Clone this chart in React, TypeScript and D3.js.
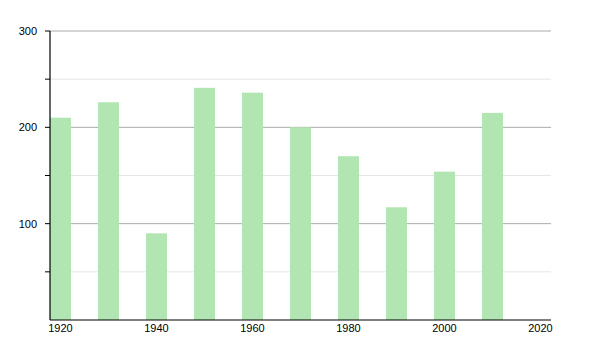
import React from "react";
import * as d3 from "d3";

const years = [1920, 1930, 1940, 1950, 1960, 1970, 1980, 1990, 2000, 2010];
const values = [210, 226, 90, 241, 236, 200, 170, 117, 154, 215];
const xTicks = [1920, 1940, 1960, 1980, 2000, 2020];
const yMajor = [100, 200, 300];
const yMinor = [50, 150, 250];

const W = 600, H = 350;
const left = 50, right = 551, top = 31, bottom = 320;
const barYears = 4.375;

export default function App() {
  const x = d3.scaleLinear().domain([1920, 2020 + barYears]).range([left, right]);
  const y = d3.scaleLinear().domain([0, 300]).range([bottom, top]);
  const bw = x(1920 + barYears) - x(1920);
  const font = "'Liberation Sans', Arial, sans-serif";
  return (
    <svg width={W} height={H} style={{ position: "absolute", left: 0, top: 0 }}>
      <rect width={W} height={H} fill="#fff" />
      {yMinor.map((v) => (
        <g key={"mi" + v}>
          <line x1={left} x2={right} y1={y(v)} y2={y(v)} stroke="#e6e6e6" strokeWidth={1} />
          <line x1={left - 5} x2={left} y1={y(v)} y2={y(v)} stroke="#000" strokeWidth={1} />
        </g>
      ))}
      {yMajor.map((v) => (
        <g key={"ma" + v}>
          <line x1={left} x2={right} y1={y(v)} y2={y(v)} stroke="#aaaaaa" strokeWidth={1} />
          <line x1={left - 5} x2={left} y1={y(v)} y2={y(v)} stroke="#000" strokeWidth={1} />
          <text x={left - 13} y={y(v)} dy="0.35em" textAnchor="end" fontFamily={font} fontSize={11} fill="#000">
            {v}
          </text>
        </g>
      ))}
      {years.map((yr, i) => (
        <rect key={yr} x={x(yr)} y={y(values[i])} width={bw} height={bottom - y(values[i])} fill="#b1e5b1" />
      ))}
      <line x1={left} x2={left} y1={top} y2={bottom} stroke="#000" strokeWidth={1.2} />
      <line x1={left} x2={right} y1={bottom} y2={bottom} stroke="#000" strokeWidth={1.2} />
      {xTicks.map((t) => (
        <text key={t} x={x(t) + bw / 2} y={bottom + 8} dy="0.35em" textAnchor="middle" fontFamily={font} fontSize={11} fill="#000">
          {t}
        </text>
      ))}
    </svg>
  );
}
